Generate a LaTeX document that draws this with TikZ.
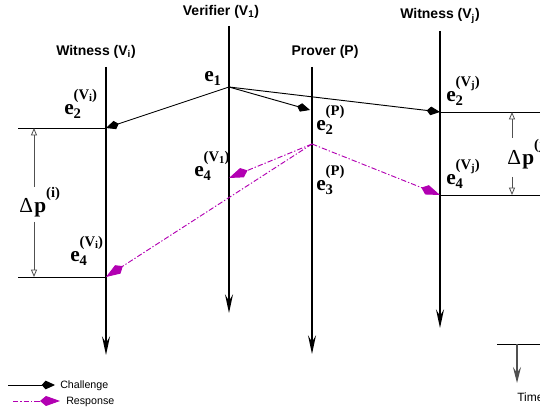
\documentclass[tikz,border=0pt]{standalone}
\usepackage{fontspec}
\setmainfont{Liberation Serif}
\setsansfont{Liberation Sans}
\usepackage{tikz}
\usetikzlibrary{arrows.meta}
\definecolor{respmagenta}{RGB}{178, 0, 178}
\definecolor{deltagray}{RGB}{80, 80, 80}

% event label: e, subscript, raised superscript
\newcommand\evlab[2]{{\fontsize{16}{18}\selectfont\bfseries
  e\rlap{\raisebox{0.72em}{\fontsize{11}{11}\selectfont #2}}%
  \raisebox{-0.18em}{\fontsize{11}{11}\selectfont #1}}}
\newcommand\vsub[1]{V\raisebox{-0.3ex}{\fontsize{8}{8}\selectfont #1}}
\newcommand\dplab[1]{{\fontsize{16}{18}\selectfont
  \char"0394\kern1pt\bfseries p\rlap{\raisebox{0.72em}{\fontsize{11}{11}\selectfont #1}}}}

\tikzset{
  head/.style={font=\sffamily\bfseries\fontsize{10.5}{12}\selectfont, inner sep=0pt},
  evt/.style={anchor=base west, inner sep=0pt},
  lifeline/.style={line width=1.1pt, -{Stealth[length=14pt,width=6pt,inset=5pt]}},
  challenge/.style={line width=0.7pt, -{Kite[length=10pt,width=6.5pt,inset=3pt]}},
  response/.style={respmagenta, line width=0.7pt,
    dash pattern=on 4pt off 1.5pt on 1pt off 1.5pt,
    -{Kite[length=15pt,width=7.5pt,inset=4.5pt]}},
  marker/.style={line width=0.7pt},
  deltaarrow/.style={deltagray, line width=0.6pt, -{Triangle[open,length=5.5pt,width=4.5pt]}},
  legendtext/.style={font=\sffamily\fontsize{8}{9}\selectfont, anchor=west, inner sep=0pt}
}

\begin{document}
\begin{tikzpicture}[x=0.75pt,y=-0.75pt]
  \useasboundingbox (0,0) rectangle (540,416);

  % party headings
  \node[head] (witi) at (96,52) {Witness (V\textsubscript{i})};
  \node[head] (verif) at (221,12) {Verifier (V\textsubscript{1})};
  \node[head] (prov) at (325,52) {Prover (P)};
  \node[head] (witj) at (440,16) {Witness (V\textsubscript{j})};

  % lifelines
  \coordinate (witi top) at (106,67);  \coordinate (witi end) at (106,355);
  \coordinate (verif top) at (229,26); \coordinate (verif end) at (229,313);
  \coordinate (prov top) at (312,67);  \coordinate (prov end) at (312,354);
  \coordinate (witj top) at (440,31);  \coordinate (witj end) at (440,328);
  \draw[lifeline] (witi top) -- (witi end);
  \draw[lifeline] (verif top) -- (verif end);
  \draw[lifeline] (prov top) -- (prov end);
  \draw[lifeline] (witj top) -- (witj end);

  % events
  \coordinate (e1) at (229,87);
  \coordinate (e2 witi) at (106,128);
  \coordinate (e2 prov) at (310,110);
  \coordinate (e2 witj) at (440,112);
  \coordinate (e3 prov) at (312,144);
  \coordinate (e4 verif) at (229,178);
  \coordinate (e4 witi) at (106,277);
  \coordinate (e4 witj) at (440,195);

  \draw[challenge] (e1) -- (e2 witi);
  \draw[challenge] (e1) -- (e2 prov);
  \draw[challenge] (e1) -- (e2 witj);
  \draw[response] (e3 prov) -- (e4 verif);
  \draw[response] (e3 prov) -- (e4 witi);
  \draw[response] (e3 prov) -- (e4 witj);

  \node[evt] (l e1) at (204,82) {\evlab{1}{}};
  \node[evt] (l e2i) at (64,115) {\evlab{2}{(\vsub{i})}};
  \node[evt] (l e4v) at (194,177) {\evlab{4}{(\vsub{1})}};
  \node[evt] (l e2p) at (316,131) {\evlab{2}{(P)}};
  \node[evt] (l e3p) at (316,191) {\evlab{3}{(P)}};
  \node[evt] (l e2j) at (446,102) {\evlab{2}{(\vsub{j})}};
  \node[evt] (l e4j) at (446,185) {\evlab{4}{(\vsub{j})}};
  \node[evt] (l e4i) at (70,262) {\evlab{4}{(\vsub{i})}};

  % delta p markers
  \coordinate (mi a) at (18,128);  \coordinate (mi b) at (18,277);
  \coordinate (mj a) at (540,112); \coordinate (mj b) at (540,195);
  \draw[marker] (mi a) -- (e2 witi);
  \draw[marker] (mi b) -- (e4 witi);
  \draw[marker] (e2 witj) -- (mj a);
  \draw[marker] (e4 witj) -- (mj b);

  \node[evt] (dpi) at (19,213) {\dplab{(i)}};
  \node[evt] (dpj) at (507,165) {\dplab{(j)}};

  \coordinate (dpi up) at (34,187);  \coordinate (dpi dn) at (34,222);
  \coordinate (dpj up) at (512,138); \coordinate (dpj dn) at (512,177);
  \draw[deltaarrow] (dpi up) -- (34,128);
  \draw[deltaarrow] (dpi dn) -- (34,277);
  \draw[deltaarrow] (dpj up) -- (512,112);
  \draw[deltaarrow] (dpj dn) -- (512,195);

  % time axis
  \coordinate (time a) at (497,344); \coordinate (time b) at (540,344);
  \coordinate (time top) at (517,344); \coordinate (time end) at (517,383);
  \draw[marker] (time a) -- (time b);
  \draw[deltagray, line width=0.8pt, -{Stealth[length=12pt,width=6pt,inset=4.5pt]}] (time top) -- (time end);
  \node[legendtext, font=\sffamily\fontsize{9}{10}\selectfont] (timelab) at (517,397) {Time};

  % legend
  \coordinate (lc a) at (8,385);  \coordinate (lc b) at (55,385);
  \coordinate (lr a) at (13,401); \coordinate (lr b) at (60,401);
  \draw[challenge] (lc a) -- (lc b);
  \draw[response] (lr a) -- (lr b);
  \node[legendtext] (lc text) at (60,386) {Challenge};
  \node[legendtext] (lr text) at (66,402) {Response};
\end{tikzpicture}
\end{document}
